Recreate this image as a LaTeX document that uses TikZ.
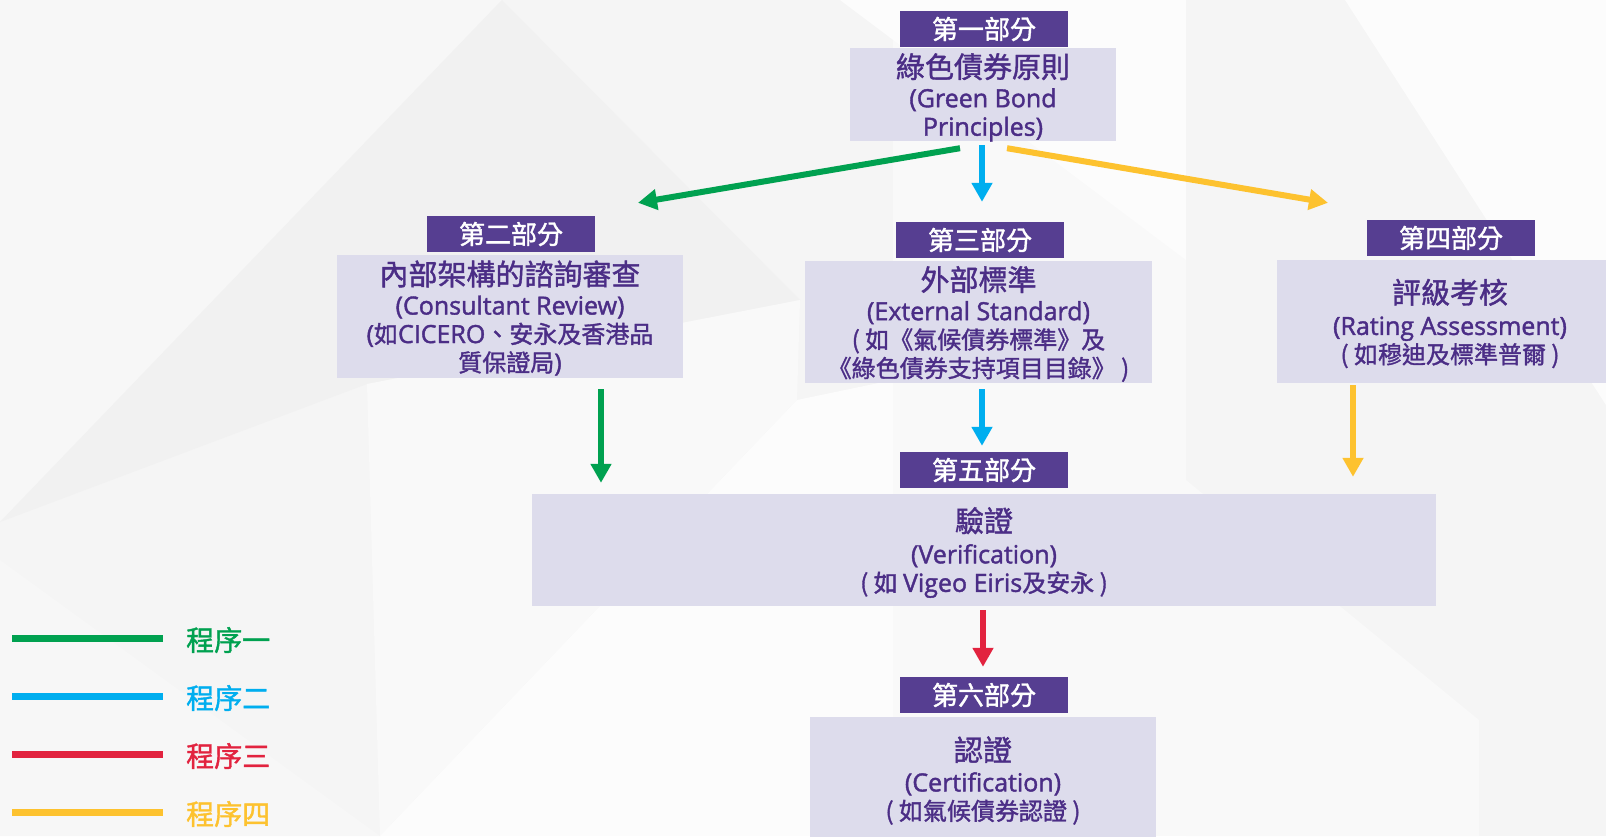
\documentclass[tikz,border=0pt]{standalone}
\usepackage{fontspec}
\setmainfont{Open Sans}[FakeBold=1.6]
\newfontfamily\cj{Noto Sans CJK TC}[FakeBold=1.4]
\usetikzlibrary{arrows.meta,calc}

\definecolor{hdrpurple}{HTML}{563E91}
\definecolor{boxfill}{HTML}{DDDCEC}
\definecolor{txtpurple}{HTML}{4B2D86}
\definecolor{pgreen}{HTML}{00A150}
\definecolor{pblue}{HTML}{00AEEF}
\definecolor{pred}{HTML}{E2233F}
\definecolor{pyellow}{HTML}{FDC22F}

% CJK runs inside the body lines and the box titles
\newcommand\zh[1]{{\cj\fontsize{24}{28.5}\selectfont #1}}
\newcommand\zhT[1]{{\cj\fontsize{29}{28.5}\selectfont #1}}

\tikzset{
  hdr/.style={fill=hdrpurple, text=white, minimum width=168pt, minimum height=36pt,
    inner sep=0pt, font=\cj\fontsize{26}{30}\selectfont},
  box/.style={fill=boxfill, inner sep=0pt},
  boxtext/.style={text=txtpurple, inner sep=0pt, align=center,
    font=\fontsize{25}{28.5}\selectfont},
  arr/.style={line width=6pt, -{Triangle[length=19pt,width=20pt]}},
  legline/.style={line width=7pt},
  legtext/.style={anchor=west, inner sep=0pt, font=\cj\fontsize{28}{30}\selectfont},
}

\begin{document}
\begin{tikzpicture}[x=1pt,y=-1pt]
\useasboundingbox (0,0) rectangle (1606,836);
\clip (0,0) rectangle (1606,836);

% faceted grey backdrop
\fill[black!4] (0,0) rectangle (1606,836);
\fill[black!3] (0,0) -- (502,0) -- (0,522) -- cycle;
\fill[black!5.5] (0,522) -- (502,0) -- (800,300) -- (367,384) -- cycle;
\fill[black!3] (0,560) -- (380,836) -- (0,836) -- cycle;
\fill[black!2.5] (367,384) -- (800,300) -- (797,400) -- (380,836) -- cycle;
\fill[black!1] (797,400) -- (893,380) -- (893,836) -- (380,836) -- cycle;
\fill[black!2.5] (893,0) -- (1186,0) -- (1186,836) -- (893,836) -- cycle;
\fill[black!1] (840,0) -- (1186,0) -- (1186,260) -- cycle;
\fill[black!1] (1345,0) -- (1606,0) -- (1606,405) -- cycle;
\fill[black!2.5] (1186,480) -- (1479,720) -- (1479,836) -- (1186,836) -- cycle;

% section headers
\node[hdr] (h1) at (984,29)   {第一部分};
\node[hdr] (h2) at (511,234)  {第二部分};
\node[hdr] (h3) at (980,240)  {第三部分};
\node[hdr] (h4) at (1451,238) {第四部分};
\node[hdr] (h5) at (984,470)  {第五部分};
\node[hdr] (h6) at (984,695)  {第六部分};

% section boxes
\node[box, minimum width=266pt, minimum height=93pt]  (b1) at (983,94.5)   {};
\node[box, minimum width=346pt, minimum height=123pt] (b2) at (510,316.5)  {};
\node[box, minimum width=347pt, minimum height=122pt] (b3) at (978.5,322)  {};
\node[box, minimum width=346pt, minimum height=123pt] (b4) at (1450,321.5) {};
\node[box, minimum width=904pt, minimum height=112pt] (b5) at (984,550)    {};
\node[box, minimum width=346pt, minimum height=124pt] (b6) at (983,779)    {};

% box captions
\node[boxtext] (t1) at ($(b1.center)+(0,3)$)
  {\zhT{綠色債券原則}\\[1pt](Green Bond\\Principles)};
\node[boxtext] (t2) at ($(b2.center)+(0,1.5)$)
  {\zhT{內部架構的諮詢審查}\\[1pt](Consultant Review)\\(\zh{如}CICERO\zh{、安永及香港品}\\\zh{質保證局})};
\node[boxtext] (t3) at ($(b3.center)+(0,2)$)
  {\zhT{外部標準}\\[1pt](External Standard)\\\zh{( 如《氣候債券標準》及}\\\zh{《綠色債券支持項目目錄》 )}};
\node[boxtext] (t4) at ($(b4.center)+(0,2)$)
  {\zhT{評級考核}\\[3pt](Rating Assessment)\\\zh{( 如穆迪及標準普爾 )}};
\node[boxtext] (t5) at ($(b5.center)+(0,2.5)$)
  {\zhT{驗證}\\[3pt](Verification)\\\zh{( 如 }Vigeo Eiris\zh{及安永 )}};
\node[boxtext] (t6) at ($(b6.center)+(0,1.5)$)
  {\zhT{認證}\\[2pt](Certification)\\\zh{( 如氣候債券認證 )}};

% process arrows
\draw[arr, pgreen]  ($(b1.south)+(-23,7)$) -- ($(h2.north)+(127,-13)$);
\draw[arr, pblue]   ($(b1.south)+(-1,4)$)  -- ($(h3.north)+(2,-20)$);
\draw[arr, pyellow] ($(b1.south)+(24,7)$)  -- ($(h4.north)+(-123,-17)$);
\draw[arr, pgreen]  ($(b2.south)+(91,11)$) -- ($(b5.north)+(-383,-11)$);
\draw[arr, pblue]   ($(b3.south)+(3.5,6)$) -- ($(h5.north)+(-2,-6)$);
\draw[arr, pyellow] ($(b4.south)+(-97,2)$) -- ($(b5.north)+(369,-17)$);
\draw[arr, pred]    ($(b5.south)+(-1,4)$)  -- ($(h6.north)+(-1,-10)$);

% legend
\node[legtext, text=pgreen]  (k1) at (186,640) {程序一};
\node[legtext, text=pblue]   (k2) at (186,698) {程序二};
\node[legtext, text=pred]    (k3) at (186,756) {程序三};
\node[legtext, text=pyellow] (k4) at (186,814) {程序四};
\draw[legline, pgreen]  (12,638) -- (163,638);
\draw[legline, pblue]   (12,696) -- (163,696);
\draw[legline, pred]    (12,754) -- (163,754);
\draw[legline, pyellow] (12,812) -- (163,812);
\end{tikzpicture}
\end{document}
